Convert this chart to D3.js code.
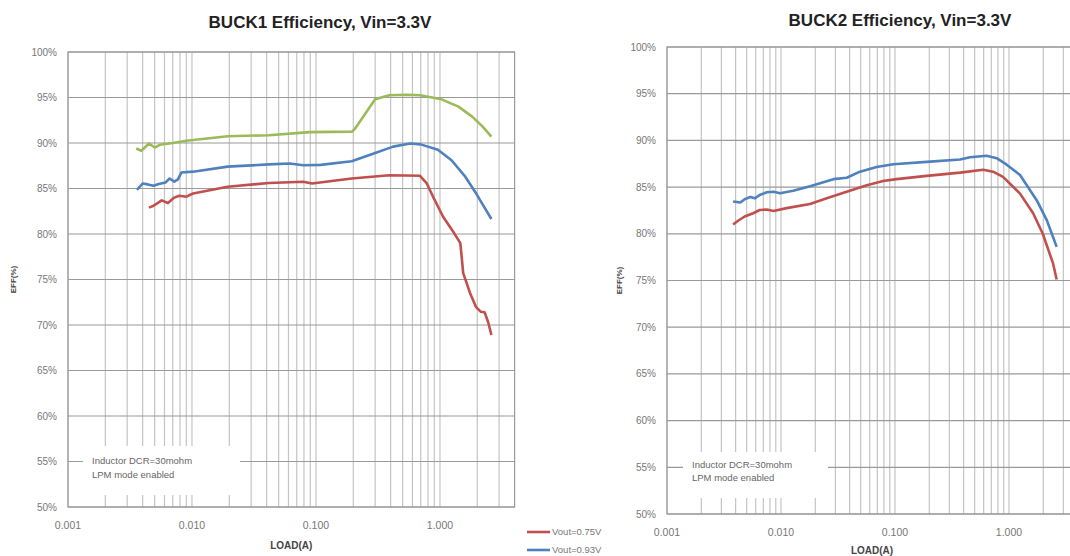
<!DOCTYPE html>
<head>
<meta charset="utf-8">
<title>BUCK efficiency</title>
<script src="https://d3js.org/d3.v7.min.js"></script>
<style>
  body { margin:0; background:#fff; }
  svg { display:block; overflow:hidden; }
  text { font-family:"Liberation Sans", Arial, sans-serif; }
</style>
</head>
<body>
<svg width="1070" height="556"></svg>
<script>
// ---- data: [load (A), efficiency (%)] ----
var buck1_075 = [[0.0045,82.9],[0.0049,83.1],[0.0057,83.7],[0.0064,83.4],[0.0072,84.0],[0.0079,84.2],
  [0.009,84.1],[0.0102,84.45],[0.0194,85.2],[0.0417,85.6],[0.079,85.75],[0.093,85.55],[0.194,86.1],
  [0.39,86.45],[0.69,86.4],[0.78,85.6],[0.88,84.1],[1.06,81.9],[1.28,80.25],[1.46,79.0],[1.54,75.7],
  [1.75,73.5],[1.95,72.0],[2.14,71.45],[2.29,71.4],[2.45,70.3],[2.6,68.9]];
var buck1_093 = [[0.0036,84.85],[0.004,85.55],[0.0044,85.45],[0.0049,85.3],[0.0054,85.5],[0.0061,85.65],
  [0.0066,86.1],[0.0072,85.75],[0.0077,86.0],[0.0082,86.75],[0.0102,86.85],[0.0194,87.4],[0.0417,87.65],
  [0.0614,87.75],[0.079,87.55],[0.109,87.6],[0.194,88.0],[0.285,88.8],[0.419,89.6],[0.576,89.95],
  [0.698,89.85],[0.963,89.25],[1.24,88.1],[1.6,86.3],[1.95,84.5],[2.36,82.6],[2.6,81.65]];
var buck1_green = [[0.00355,89.4],[0.0039,89.15],[0.0045,89.95],[0.005,89.5],[0.0055,89.8],[0.007,90.0],
  [0.009,90.25],[0.0132,90.5],[0.0194,90.75],[0.0417,90.85],[0.089,91.2],[0.196,91.25],[0.207,91.6],
  [0.3,94.8],[0.39,95.25],[0.54,95.3],[0.69,95.25],[1.03,94.8],[1.41,94.0],[1.82,92.9],[2.21,91.8],[2.6,90.7]];

var buck2_075 = [[0.0038,81.0],[0.0042,81.4],[0.0048,81.85],[0.0057,82.2],[0.0065,82.55],[0.0075,82.6],
  [0.0086,82.45],[0.0112,82.75],[0.018,83.2],[0.0252,83.8],[0.0377,84.5],[0.0566,85.2],[0.0787,85.65],
  [0.103,85.85],[0.19,86.2],[0.372,86.55],[0.594,86.85],[0.725,86.65],[0.887,86.1],[1.25,84.3],
  [1.63,82.2],[1.98,80.0],[2.44,76.8],[2.62,75.1]];
var buck2_093 = [[0.0038,83.45],[0.0044,83.35],[0.0048,83.7],[0.0054,83.95],[0.0059,83.8],[0.0065,84.15],
  [0.0075,84.45],[0.0086,84.5],[0.0098,84.35],[0.0128,84.6],[0.018,85.1],[0.0288,85.85],[0.0377,86.0],
  [0.0493,86.65],[0.069,87.15],[0.0966,87.45],[0.19,87.7],[0.372,87.95],[0.455,88.2],[0.637,88.35],
  [0.78,88.1],[0.955,87.4],[1.25,86.3],[1.75,83.6],[2.14,81.5],[2.62,78.6]];

var xTicks = [0.001, 0.01, 0.1, 1];
var xTickLabels = ["0.001", "0.010", "0.100", "1.000"];
var yTicks = [50, 55, 60, 65, 70, 75, 80, 85, 90, 95, 100];
var noteLines = ["Inductor DCR=30mohm", "LPM mode enabled"];
var legendNames = ["Vout=0.75V", "Vout=0.93V"];
var colRed = "#c0504d", colBlue = "#4f81bd", colGreen = "#9bbb59";

var svg = d3.select("svg");

function drawPanel(p) {
  var x = d3.scaleLog().domain([0.001, 4]).range([p.left, p.right]);
  var y = d3.scaleLinear().domain([50, 100]).range([p.bottom, p.top]);
  var g = svg.append("g");

  // 縦の対数グリッド
  var minor = [];
  xTicks.forEach(function(d) { for (var k = 1; k <= 9; k++) if (k * d < 4) minor.push(k * d); });
  g.append("g").selectAll("line").data(minor).enter().append("line")
    .attr("x1", function(d) { return x(d); }).attr("x2", function(d) { return x(d); })
    .attr("y1", p.top).attr("y2", p.bottom)
    .attr("stroke", "#c4c4c4").attr("stroke-width", 1.2);
  // 横グリッド
  g.append("g").selectAll("line").data(yTicks).enter().append("line")
    .attr("x1", p.left).attr("x2", p.right)
    .attr("y1", function(d) { return y(d); }).attr("y2", function(d) { return y(d); })
    .attr("stroke", "#9a9a9a").attr("stroke-width", 1.2);
  // 枠
  g.append("rect").attr("x", p.left).attr("y", p.top)
    .attr("width", p.right - p.left).attr("height", p.bottom - p.top)
    .attr("fill", "none").attr("stroke", "#9a9a9a").attr("stroke-width", 1.2);

  // 注記ボックス (白で格子を隠す)
  g.append("rect").attr("x", p.note[0]).attr("y", p.note[1])
    .attr("width", p.note[2]).attr("height", p.note[3]).attr("fill", "#fff");
  g.append("g").selectAll("text").data(noteLines).enter().append("text")
    .attr("x", p.note[0] + 9).attr("y", function(d, i) { return p.noteY + i * p.noteGap; })
    .attr("dy", "0.35em").attr("font-size", "9.5px").attr("fill", "#666").text(function(d) { return d; });

  // 曲線
  var line = d3.line().x(function(d) { return x(d[0]); }).y(function(d) { return y(d[1]); });
  p.series.forEach(function(s) {
    g.append("path").datum(s.data).attr("d", line)
      .attr("fill", "none").attr("stroke", s.color).attr("stroke-width", 2.6)
      .attr("stroke-linejoin", "round");
  });

  // 軸ラベル
  g.append("g").selectAll("text").data(yTicks).enter().append("text")
    .attr("x", p.left - 11).attr("y", function(d) { return y(d); }).attr("dy", "0.35em")
    .attr("text-anchor", "end").attr("font-size", "10px").attr("fill", "#777")
    .text(function(d) { return d + "%"; });
  g.append("g").selectAll("text").data(xTicks).enter().append("text")
    .attr("x", function(d) { return x(d); }).attr("y", p.xLabY).attr("dy", "0.35em")
    .attr("text-anchor", "middle").attr("font-size", "10.5px").attr("fill", "#777")
    .text(function(d, i) { return xTickLabels[i]; });

  g.append("text").attr("x", (p.left + Math.min(p.right, 1070 + 7)) / 2).attr("y", p.xTitleY).attr("dy", "0.35em")
    .attr("text-anchor", "middle").attr("font-size", "10px").attr("font-weight", "bold").attr("fill", "#444")
    .text("LOAD(A)");
  g.append("text").attr("transform", "translate(" + p.yTitleX + "," + (p.top + p.bottom) / 2 + ") rotate(-90)")
    .attr("dy", "0.35em").attr("text-anchor", "middle").attr("font-size", "8px").attr("font-weight", "bold")
    .attr("fill", "#444").text("EFF(%)");

  g.append("text").attr("x", p.titleX).attr("y", p.titleY).attr("text-anchor", "middle")
    .attr("font-size", "17px").attr("font-weight", "bold").attr("fill", "#222").text(p.title);
}

drawPanel({
  left: 68, right: 514.6, top: 52, bottom: 507,
  title: "BUCK1 Efficiency, Vin=3.3V", titleX: 320, titleY: 28,
  xLabY: 525, xTitleY: 545, yTitleX: 13,
  note: [83, 446, 157, 49], noteY: 461, noteGap: 14,
  series: [{data: buck1_green, color: colGreen}, {data: buck1_093, color: colBlue}, {data: buck1_075, color: colRed}]
});
drawPanel({
  left: 667, right: 1077.6, top: 47, bottom: 514,
  title: "BUCK2 Efficiency, Vin=3.3V", titleX: 900, titleY: 26,
  xLabY: 532, xTitleY: 550, yTitleX: 619,
  note: [683, 452, 145, 46], noteY: 465, noteGap: 13,
  series: [{data: buck2_093, color: colBlue}, {data: buck2_075, color: colRed}]
});

// 凡例
var leg = svg.append("g").selectAll("g").data(legendNames).enter().append("g")
  .attr("transform", function(d, i) { return "translate(527," + (532 + i * 18) + ")"; });
leg.append("line").attr("x1", 0).attr("x2", 23).attr("stroke", function(d, i) { return [colRed, colBlue][i]; })
  .attr("stroke-width", 2.6);
leg.append("text").attr("x", 25).attr("dy", "0.35em").attr("font-size", "9.5px").attr("fill", "#777")
  .text(function(d) { return d; });
</script>
</body>
